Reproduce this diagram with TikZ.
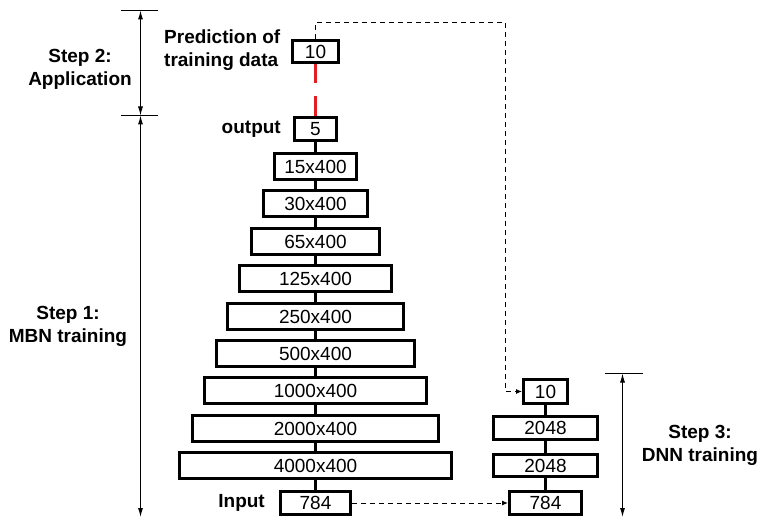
\documentclass[tikz,border=0pt]{standalone}
\usepackage{fontspec}
\setmainfont{Liberation Sans}
\usetikzlibrary{arrows.meta}
\definecolor{dred}{RGB}{228,28,36}
\begin{document}
\begin{tikzpicture}[x=1pt,y=-1pt,
  layer/.style={draw, line width=3pt, inner sep=0pt, minimum height=26, font=\fontsize{19}{23}\selectfont},
  small/.style={layer, minimum height=23},
  lbl/.style={inner sep=0pt, font=\bfseries\fontsize{19}{23}\selectfont, align=center},
  link/.style={line width=3pt},
  redlink/.style={line width=3pt, draw=dred, dash pattern=on 19pt off 13pt on 25pt off 5pt},
  fb/.style={line width=1pt, dash pattern=on 5pt off 4pt, -{Latex[length=6pt,width=5pt]}},
  span/.style={line width=1pt},
  spanarrow/.style={span, {Latex[length=9pt,width=5pt]}-{Latex[length=9pt,width=5pt]}}]
\useasboundingbox (0,0) rectangle (759,518);

% MBN column
\node[small, minimum width=46, minimum height=22] (pred) at (315.5,51.5) {10};
\node[small, minimum width=42] (out) at (315.5,129) {5};
\node[layer, minimum width=82]  (L15)   at (315.5,166.5) {15x400};
\node[layer, minimum width=104] (L30)   at (315.5,203.5) {30x400};
\node[layer, minimum width=128] (L65)   at (315.5,241.5) {65x400};
\node[layer, minimum width=152] (L125)  at (315.5,278.5) {125x400};
\node[layer, minimum width=176] (L250)  at (315.5,316.5) {250x400};
\node[layer, minimum width=198] (L500)  at (315.5,353.5) {500x400};
\node[layer, minimum width=222] (L1000) at (315.5,390.5) {1000x400};
\node[layer, minimum width=246] (L2000) at (315.5,428.5) {2000x400};
\node[layer, minimum width=272] (L4000) at (315.5,465.5) {4000x400};
\node[small, minimum width=70] (in) at (315.5,503) {784};

% DNN column
\node[small, minimum width=44, minimum height=24] (d10) at (545.5,391.5) {10};
\node[small, minimum width=104] (da) at (545.5,428) {2048};
\node[small, minimum width=104, minimum height=22] (db) at (545.5,465.5) {2048};
\node[small, minimum width=72] (d784) at (545.5,503) {784};

% labels
\node[lbl, anchor=east] (outlbl) at (281,129) {output};
\node[lbl, anchor=east] (inlbl) at (265,503) {Input};
\node[lbl, anchor=west, align=left] (predlbl) at (164,50) {Prediction of\\training data};
\node[lbl] (s2) at (80,69.5) {Step 2:\\Application};
\node[lbl] (s1) at (68,326.8) {Step 1:\\MBN training};
\node[lbl] (s3) at (700,445) {Step 3:\\DNN training};

% layer links
\draw[redlink] (pred) -- (out);
\draw[link] (out) -- (L15);
\draw[link] (L15) -- (L30);
\draw[link] (L30) -- (L65);
\draw[link] (L65) -- (L125);
\draw[link] (L125) -- (L250);
\draw[link] (L250) -- (L500);
\draw[link] (L500) -- (L1000);
\draw[link] (L1000) -- (L2000);
\draw[link] (L2000) -- (L4000);
\draw[link] (L4000) -- (in);
\draw[link] (d10) -- (da);
\draw[link] (da) -- (db);
\draw[link] (db) -- (d784);

% feedback dashed connectors
\coordinate (t1) at (505.5,22.5);
\draw[fb] (pred.north) |- (t1) |- (d10.west);
\draw[fb] (in) -- (d784);

% step brackets
\coordinate (s2topL) at (121,10.5);
\coordinate (s2topR) at (158,10.5);
\coordinate (s2botL) at (121,115.5);
\coordinate (s2botR) at (158,115.5);
\coordinate (s2top) at (140.5,10.5);
\coordinate (s2bot) at (140.5,115.5);
\coordinate (s1bot) at (140.5,517);
\draw[span] (s2topL) -- (s2topR);
\draw[span] (s2botL) -- (s2botR);
\draw[spanarrow] (s2top) -- (s2bot);
\draw[spanarrow] (s2bot) -- (s1bot);

\coordinate (s3topL) at (605,373.5);
\coordinate (s3topR) at (643,373.5);
\coordinate (s3top) at (622.5,373.5);
\coordinate (s3bot) at (622.5,517);
\draw[span] (s3topL) -- (s3topR);
\draw[spanarrow] (s3top) -- (s3bot);
\end{tikzpicture}
\end{document}
